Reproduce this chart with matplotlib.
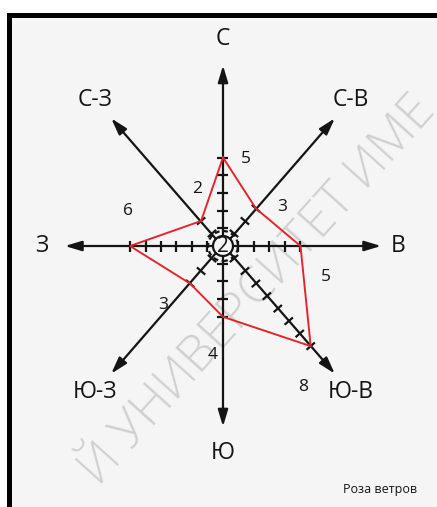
import numpy as np
import matplotlib
matplotlib.use('Agg')
import matplotlib.pyplot as plt
from matplotlib.patches import Ellipse, Rectangle
from matplotlib.lines import Line2D
from matplotlib.collections import LineCollection

plt.rcParams['font.family'] = ['Open Sans', 'DejaVu Sans']

# Wind rose data
directions = ['С', 'С-В', 'В', 'Ю-В', 'Ю', 'Ю-З', 'З', 'С-З']
angles_deg = [90, 45, 0, -45, -90, -135, 180, 135]
values = [5, 3, 5, 8, 4, 3, 6, 2]
calm = 2
caption = 'Роза ветров'
watermark = 'Й УНИВЕРСИТЕТ ИМЕ'

# label offsets for the value numbers (data units, from the value point)
value_label_offsets = [(1.5, -0.1), (1.7, 0.1), (1.65, -1.75), (-0.5, -2.3),
                       (-0.7, -2.15), (-1.75, -1.2), (-0.1, 2.0), (-0.27, 1.8)]

W, H = 437, 507
SX, SY = 15.5, 17.7          # pixels per unit (picture is a bit stretched vertically)
CX, CY = 223, 246            # centre of the rose in pixels (from top-left)
AXIS_LEN = 10.2
LABEL_R = 11.7
TICK_HALF = 5.5              # px
R_IN, R_OUT = 10, 15         # px
INK = '#141414'

fig = plt.figure(figsize=(W / 100, H / 100), dpi=100)
fig.patch.set_facecolor('white')

# page background and black frame (top + left)
fx, fy = 8.5 / W, 1 - 15 / H
fig.patches.append(Rectangle((fx, 0), 1 - fx, fy, transform=fig.transFigure,
                             facecolor='#f5f5f5', edgecolor='none', zorder=-10))
fig.lines.append(Line2D([fx, fx], [0, fy], transform=fig.transFigure,
                        color='black', lw=3.6, solid_capstyle='projecting', zorder=10))
fig.lines.append(Line2D([fx, 1], [fy, fy], transform=fig.transFigure,
                        color='black', lw=3.6, solid_capstyle='projecting', zorder=10))

ax = fig.add_axes([0, 0, 1, 1])
ax.set_xlim(-CX / SX, (W - CX) / SX)
ax.set_ylim(-(H - CY) / SY, CY / SY)
ax.axis('off')
ax.patch.set_alpha(0)

# watermark (cut by the page edge, as in the scan)
wx = (258 - CX) / SX
wy = (CY - 291) / SY
ax.text(wx, wy, watermark, rotation=48, rotation_mode='anchor', ha='center', va='center',
        fontsize=36, color='#d0d0d0', fontweight='light', zorder=1)

theta = np.deg2rad(angles_deg)
ux, uy = np.cos(theta), np.sin(theta)

# axes arrows
for cx_, cy_ in zip(ux, uy):
    start = (cx_ * R_IN / SX, cy_ * R_IN / SY)
    end = (cx_ * AXIS_LEN, cy_ * AXIS_LEN)
    ax.annotate('', xy=end, xytext=start,
                arrowprops=dict(arrowstyle='-|>,head_length=1.0,head_width=0.3',
                                lw=1.6, color=INK, shrinkA=0, shrinkB=0),
                zorder=3)

# tick marks from 1 up to the value on each axis
segs = []
for cx_, cy_, v in zip(ux, uy, values):
    dpx = np.array([cx_ * SX, cy_ * SY])
    dpx /= np.linalg.norm(dpx)
    npx = np.array([-dpx[1], dpx[0]]) * TICK_HALF
    ndata = np.array([npx[0] / SX, npx[1] / SY])
    for k in range(1, v + 1):
        p = np.array([cx_ * k, cy_ * k])
        segs.append([p - ndata, p + ndata])
ax.add_collection(LineCollection(segs, colors=INK, linewidths=1.6, zorder=3))

# calm circle
ax.add_patch(Ellipse((0, 0), 2 * R_IN / SX, 2 * R_IN / SY, fill=False,
                     edgecolor=INK, lw=1.6, zorder=4))
ax.add_patch(Ellipse((0, 0), 2 * R_OUT / SX, 2 * R_OUT / SY, fill=False,
                     edgecolor=INK, lw=1.6, ls=(0, (2.2, 1.6)), zorder=4))
ax.text(0, 0, str(calm), ha='center', va='center', fontsize=15, color=INK, zorder=5)

# the rose itself
px = np.array(values) * ux
py = np.array(values) * uy
ax.plot(np.append(px, px[0]), np.append(py, py[0]), color='#e3262d', lw=1.4,
        solid_joinstyle='miter', zorder=4)

# value numbers
for x0, y0, v, (ox, oy) in zip(px, py, values, value_label_offsets):
    ax.text(x0 + ox, y0 + oy, str(v), ha='center', va='center', fontsize=12.5,
            color=INK, zorder=5)

# direction names
for name, cx_, cy_ in zip(directions, ux, uy):
    r = LABEL_R if cy_ != 0 else 11.3
    ax.text(cx_ * r, cy_ * r, name, ha='center', va='center', fontsize=16.5,
            color=INK, zorder=5)

ax.text((380 - CX) / SX, (CY - 489) / SY, caption, ha='center', va='center',
        fontsize=9, color=INK, zorder=5)

fig.savefig('out.png', dpi=100, facecolor=fig.get_facecolor())
